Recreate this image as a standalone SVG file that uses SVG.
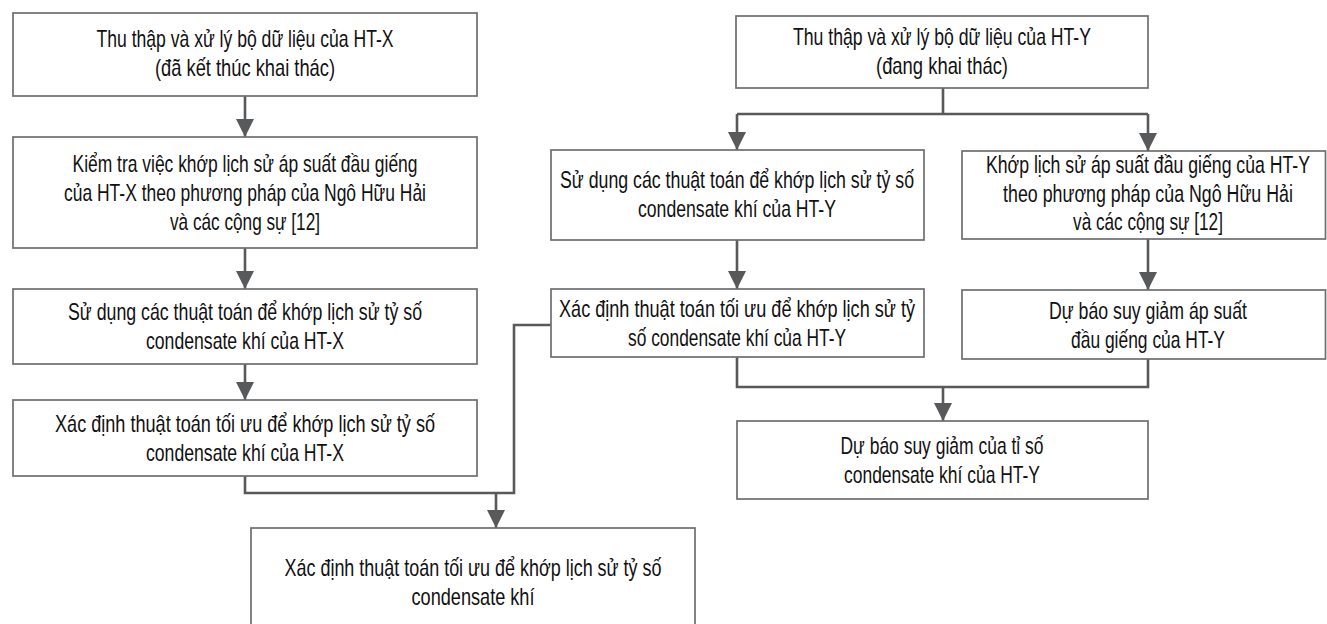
<svg xmlns="http://www.w3.org/2000/svg" width="1327" height="624" viewBox="0 0 1327 624">
<defs>
<style>
.box{fill:#fff;stroke:#6d6e71;stroke-width:1.7}
.t{font-family:"Liberation Sans",Arial,sans-serif;font-size:24px;fill:#111;text-anchor:middle}
.c{fill:none;stroke:#58595b;stroke-width:2.6}
</style>
<marker id="ah" viewBox="0 0 10 10" refX="10" refY="5" markerWidth="7" markerHeight="7" markerUnits="strokeWidth" orient="auto">
<path d="M0,0 L10,5 L0,10 z" fill="#58595b"/>
</marker>
</defs>
<rect width="1327" height="624" fill="#fff"/>
<g id="connectors">
<path class="c" d="M245,96 V137" marker-end="url(#ah)"/>
<path class="c" d="M245,248 V289" marker-end="url(#ah)"/>
<path class="c" d="M245,364 V400" marker-end="url(#ah)"/>
<path class="c" d="M245,476 V493 H514 V325 H551"/>
<path class="c" d="M496,493 V528" marker-end="url(#ah)"/>
<path class="c" d="M943,88 V114"/>
<path class="c" d="M737,114 H1148"/>
<path class="c" d="M737,114 V150" marker-end="url(#ah)"/>
<path class="c" d="M1148,114 V151" marker-end="url(#ah)"/>
<path class="c" d="M737,240 V289" marker-end="url(#ah)"/>
<path class="c" d="M1148,239 V290" marker-end="url(#ah)"/>
<path class="c" d="M737,357 V387 H1148 V359"/>
<path class="c" d="M943,387 V421" marker-end="url(#ah)"/>
</g>
<g id="x1"><rect class="box" x="13" y="13" width="464" height="83"/>
<text class="t" x="245" y="47" textLength="297" lengthAdjust="spacingAndGlyphs">Thu thập và xử lý bộ dữ liệu của HT-X</text>
<text class="t" x="245" y="76" textLength="180" lengthAdjust="spacingAndGlyphs">(đã kết thúc khai thác)</text></g>
<g id="x2"><rect class="box" x="13" y="137" width="464" height="111"/>
<text class="t" x="245" y="172" textLength="345" lengthAdjust="spacingAndGlyphs">Kiểm tra việc khớp lịch sử áp suất đầu giếng</text>
<text class="t" x="245" y="201" textLength="362" lengthAdjust="spacingAndGlyphs">của HT-X theo phương pháp của Ngô Hữu Hải</text>
<text class="t" x="245" y="230" textLength="150" lengthAdjust="spacingAndGlyphs">và các cộng sự [12]</text></g>
<g id="x3"><rect class="box" x="13" y="289" width="464" height="75"/>
<text class="t" x="245" y="320" textLength="354" lengthAdjust="spacingAndGlyphs">Sử dụng các thuật toán để khớp lịch sử tỷ số</text>
<text class="t" x="245" y="349" textLength="198" lengthAdjust="spacingAndGlyphs">condensate khí của HT-X</text></g>
<g id="x4"><rect class="box" x="13" y="400" width="464" height="76"/>
<text class="t" x="245" y="432" textLength="380" lengthAdjust="spacingAndGlyphs">Xác định thuật toán tối ưu để khớp lịch sử tỷ số</text>
<text class="t" x="245" y="461" textLength="198" lengthAdjust="spacingAndGlyphs">condensate khí của HT-X</text></g>
<g id="final"><rect class="box" x="251" y="528" width="444" height="100"/>
<text class="t" x="473" y="576" textLength="377" lengthAdjust="spacingAndGlyphs">Xác định thuật toán tối ưu để khớp lịch sử tỷ số</text>
<text class="t" x="473" y="605" textLength="123" lengthAdjust="spacingAndGlyphs">condensate khí</text></g>
<g id="y1"><rect class="box" x="736" y="16" width="412" height="72"/>
<text class="t" x="942" y="45" textLength="298" lengthAdjust="spacingAndGlyphs">Thu thập và xử lý bộ dữ liệu của HT-Y</text>
<text class="t" x="942" y="74" textLength="132" lengthAdjust="spacingAndGlyphs">(đang khai thác)</text></g>
<g id="y2"><rect class="box" x="551" y="150" width="373" height="90"/>
<text class="t" x="737" y="188" textLength="354" lengthAdjust="spacingAndGlyphs">Sử dụng các thuật toán để khớp lịch sử tỷ số</text>
<text class="t" x="737" y="217" textLength="198" lengthAdjust="spacingAndGlyphs">condensate khí của HT-Y</text></g>
<g id="y3"><rect class="box" x="962" y="151" width="363.5" height="88"/>
<g transform="translate(1148,0) scale(0.7,1)">
<text class="t" x="0" y="173" textLength="463" lengthAdjust="spacingAndGlyphs">Khớp lịch sử áp suất đầu giếng của HT-Y</text>
<text class="t" x="0" y="202" textLength="414" lengthAdjust="spacingAndGlyphs">theo phương pháp của Ngô Hữu Hải</text>
<text class="t" x="0" y="230" textLength="214" lengthAdjust="spacingAndGlyphs">và các cộng sự [12]</text>
</g></g>
<g id="y4"><rect class="box" x="551" y="289" width="373" height="68"/>
<text class="t" x="737" y="317" textLength="356" lengthAdjust="spacingAndGlyphs">Xác định thuật toán tối ưu để khớp lịch sử tỷ</text>
<text class="t" x="737" y="346" textLength="218" lengthAdjust="spacingAndGlyphs">số condensate khí của HT-Y</text></g>
<g id="y5"><rect class="box" x="962" y="290" width="363.5" height="69"/>
<text class="t" x="1148" y="319" textLength="198" lengthAdjust="spacingAndGlyphs">Dự báo suy giảm áp suất</text>
<text class="t" x="1148" y="348" textLength="154" lengthAdjust="spacingAndGlyphs">đầu giếng của HT-Y</text></g>
<g id="y6"><rect class="box" x="737" y="421" width="411" height="78"/>
<text class="t" x="942" y="454" textLength="203" lengthAdjust="spacingAndGlyphs">Dự báo suy giảm của tỉ số</text>
<text class="t" x="942" y="483" textLength="196" lengthAdjust="spacingAndGlyphs">condensate khí của HT-Y</text></g>
</svg>
